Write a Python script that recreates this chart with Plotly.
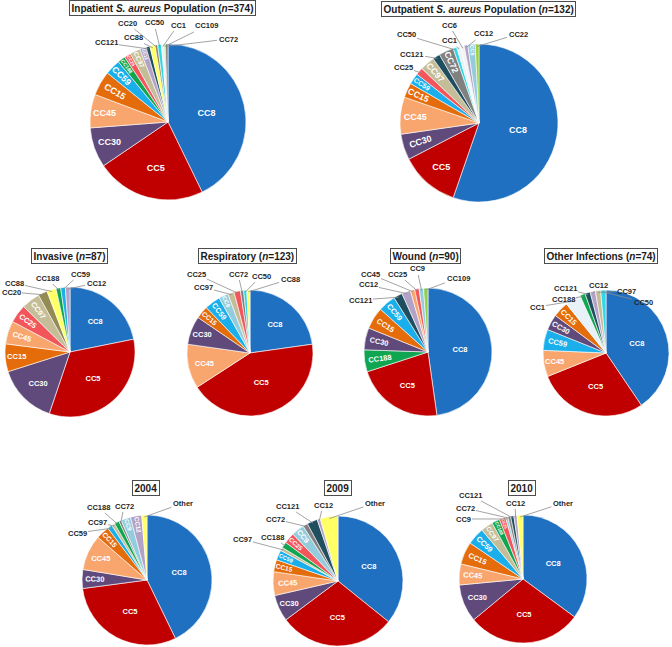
import math
import plotly.graph_objects as go

# ---------------- data ----------------
inpatient_labels = ["CC8", "CC5", "CC30", "CC45", "CC15", "CC59", "CC188", "CC25", "CC97", "CC12",
                    "CC121", "CC88", "CC20", "CC50", "CC1", "CC109", "CC72"]
inpatient_counts = [160, 85, 31, 26, 19, 12, 6, 5, 8, 5, 3, 4, 2, 3, 2, 1, 2]
inpatient_outside = ["CC121", "CC88", "CC20", "CC50", "CC1", "CC109", "CC72"]

outpatient_labels = ["CC8", "CC5", "CC30", "CC45", "CC15", "CC59", "CC25", "CC97", "CC121", "CC72",
                     "CC50", "CC1", "CC6", "CC12", "CC9", "CC22"]
outpatient_counts = [73, 16, 7, 10, 4, 3, 2, 4, 2, 4, 1, 1, 1, 1, 2, 1]
outpatient_outside = ["CC25", "CC121", "CC50", "CC1", "CC6", "CC12", "CC22"]

invasive_labels = ["CC8", "CC5", "CC30", "CC15", "CC45", "CC25", "CC97", "CC20", "CC88", "CC188", "CC59", "CC12"]
invasive_counts = [19, 29, 13, 6, 5, 4, 4, 2, 2, 1, 1, 1]
invasive_outside = ["CC20", "CC88", "CC188", "CC59", "CC12"]

respiratory_labels = ["CC8", "CC5", "CC45", "CC30", "CC15", "CC59", "CC9", "CC97", "CC25", "CC72", "CC50", "CC88"]
respiratory_counts = [28, 53, 14, 9, 4, 5, 3, 2, 2, 1, 1, 1]
respiratory_outside = ["CC97", "CC25", "CC72", "CC50", "CC88"]

wound_labels = ["CC8", "CC5", "CC188", "CC30", "CC15", "CC59", "CC121", "CC12", "CC45", "CC25", "CC9", "CC109"]
wound_counts = [43, 20, 5, 5, 5, 4, 2, 2, 1, 1, 1, 1]
wound_outside = ["CC121", "CC12", "CC45", "CC25", "CC9", "CC109"]

other_labels = ["CC8", "CC5", "CC45", "CC59", "CC30", "CC15", "CC1", "CC188", "CC121", "CC12", "CC97", "CC50"]
other_counts = [30, 21, 5, 4, 3, 3, 3, 1, 1, 1, 1, 1]
other_outside = ["CC1", "CC188", "CC121", "CC12", "CC97", "CC50"]

y2004_labels = ["CC8", "CC5", "CC30", "CC45", "CC15", "CC59", "CC97", "CC188", "CC72", "CC9", "CC12", "Other"]
y2004_pct = [42.8, 30.1, 4.7, 8.8, 3.3, 1.2, 0.8, 1.2, 0.6, 2.4, 2.8, 1.3]
y2004_outside = ["CC59", "CC97", "CC188", "CC72", "Other"]

y2009_labels = ["CC8", "CC5", "CC30", "CC45", "CC15", "CC59", "CC97", "CC188", "CC25", "CC9", "CC72",
                "CC121", "CC12", "Other"]
y2009_pct = [35.8, 29.0, 6.6, 5.9, 3.0, 2.5, 0.8, 1.5, 2.7, 3.2, 1.2, 2.6, 0.8, 4.4]
y2009_outside = ["CC97", "CC188", "CC72", "CC121", "CC12", "Other"]

y2010_labels = ["CC8", "CC5", "CC30", "CC45", "CC15", "CC59", "CC97", "CC188", "CC25", "CC9", "CC72",
                "CC121", "CC12", "Other"]
y2010_pct = [35.1, 28.9, 9.5, 5.3, 5.7, 4.4, 3.1, 2.0, 1.6, 0.6, 0.7, 0.8, 0.8, 1.5]
y2010_outside = ["CC9", "CC72", "CC121", "CC12", "Other"]

# ---------------- styles ----------------
COLORS = {
    "CC8": "#1F70C1", "CC5": "#C00000", "CC30": "#604A7B", "CC45": "#F9A66E", "CC15": "#E46C0A",
    "CC59": "#1AAFEA", "CC188": "#10A550", "CC25": "#F2565A", "CC97": "#C4BD97", "CC12": "#B3A2C7",
    "CC121": "#1F4E5F", "CC88": "#FFFF66", "CC20": "#948A54", "CC50": "#33D6E6", "CC1": "#E9F1F8",
    "CC109": "#92D050", "CC72": "#808080", "CC9": "#93CDDD", "CC6": "#F2F2F2", "CC22": "#9BD239",
    "Other": "#FFFF66",
}

W, H = 672, 647
FONT = "Liberation Sans, Arial, sans-serif"

# layout (pixel centers, radii, title positions, outside-label positions)
PIES = [
    dict(labels=inpatient_labels, values=inpatient_counts, outside=inpatient_outside,
         cx=168, cy=122, r=78, fs=9,
         title="Inpatient <i>S. aureus</i> Population (<i>n</i>=374)", tx=162, ty=8,
         pos={"CC121": (106, 43), "CC88": (133, 38), "CC20": (127, 23), "CC50": (154, 23),
              "CC1": (178, 25), "CC109": (206, 26), "CC72": (228, 39)}),
    dict(labels=outpatient_labels, values=outpatient_counts, outside=outpatient_outside,
         cx=479, cy=123, r=79, fs=9,
         title="Outpatient <i>S. aureus</i> Population (<i>n</i>=132)", tx=478, ty=9,
         pos={"CC25": (403, 67), "CC121": (412, 54), "CC50": (406, 35), "CC1": (449, 41),
              "CC6": (449, 25), "CC12": (483, 34), "CC22": (518, 34)}),
    dict(labels=invasive_labels, values=invasive_counts, outside=invasive_outside,
         cx=70, cy=352, r=65, fs=7.5,
         title="Invasive (<i>n</i>=87)", tx=69, ty=256,
         pos={"CC20": (11, 292), "CC88": (14, 283), "CC188": (47, 278), "CC59": (80, 274),
              "CC12": (96, 283)}),
    dict(labels=respiratory_labels, values=respiratory_counts, outside=respiratory_outside,
         cx=250, cy=353, r=63, fs=7.5,
         title="Respiratory (<i>n</i>=123)", tx=247, ty=256,
         pos={"CC97": (203, 287), "CC25": (196, 274), "CC72": (238, 274), "CC50": (261, 276),
              "CC88": (290, 279)}),
    dict(labels=wound_labels, values=wound_counts, outside=wound_outside,
         cx=428, cy=352, r=64, fs=7.5,
         title="Wound (<i>n</i>=90)", tx=425, ty=256,
         pos={"CC121": (360, 300), "CC12": (368, 285), "CC45": (370, 274), "CC25": (398, 274),
              "CC9": (417, 269), "CC109": (458, 278)}),
    dict(labels=other_labels, values=other_counts, outside=other_outside,
         cx=606, cy=353, r=63, fs=7.5,
         title="Other Infections (<i>n</i>=74)", tx=601, ty=256,
         pos={"CC1": (537, 307), "CC188": (563, 300), "CC121": (565, 288), "CC12": (598, 285),
              "CC97": (626, 291), "CC50": (643, 302)}),
    dict(labels=y2004_labels, values=y2004_pct, outside=y2004_outside,
         cx=147, cy=580, r=65, fs=7.5,
         title="2004", tx=146, ty=488,
         pos={"CC59": (77, 533), "CC97": (97, 522), "CC188": (98, 507), "CC72": (124, 506),
              "Other": (183, 503)}),
    dict(labels=y2009_labels, values=y2009_pct, outside=y2009_outside,
         cx=338, cy=581, r=65, fs=7.5,
         title="2009", tx=338, ty=488,
         pos={"CC97": (242, 539), "CC188": (272, 537), "CC72": (275, 519), "CC121": (287, 506),
              "CC12": (323, 505), "Other": (375, 503)}),
    dict(labels=y2010_labels, values=y2010_pct, outside=y2010_outside,
         cx=523, cy=579, r=64, fs=7.5,
         title="2010", tx=522, ty=488,
         pos={"CC9": (463, 519), "CC72": (465, 508), "CC121": (470, 495), "CC12": (515, 503),
              "Other": (563, 503)}),
]


def px_to_paper(x, y):
    return x / W, 1 - y / H


fig = go.Figure()
annotations = []

for p in PIES:
    cx, cy, r = p["cx"], p["cy"], p["r"]
    labels, values, outside = p["labels"], p["values"], p["outside"]
    texts = ["" if lab in outside else lab for lab in labels]
    fig.add_trace(go.Pie(
        labels=labels, values=values, text=texts, textinfo="text",
        sort=False, direction="clockwise", rotation=0,
        marker=dict(colors=[COLORS[l] for l in labels], line=dict(color="white", width=0.6)),
        textposition="inside", insidetextorientation="auto",
        insidetextfont=dict(color="white", size=p["fs"], family=FONT, weight="bold"),
        domain=dict(x=[(cx - r) / W, (cx + r) / W], y=[1 - (cy + r) / H, 1 - (cy - r) / H]),
        showlegend=False, hoverinfo="label+value",
    ))

    # leader-line labels for tiny slices, anchored at slice mid-angle
    total = float(sum(values))
    cum = 0.0
    for lab, v in zip(labels, values):
        mid = (cum + v / 2.0) / total * 2 * math.pi
        cum += v
        if lab not in outside:
            continue
        px = cx + 0.97 * r * math.sin(mid)
        py = cy - 0.97 * r * math.cos(mid)
        lx, ly = p["pos"][lab]
        x, y = px_to_paper(px, py)
        annotations.append(dict(
            x=x, y=y, xref="paper", yref="paper", text=lab, showarrow=True,
            ax=lx - px, ay=ly - py, arrowhead=0, arrowwidth=0.8, arrowcolor="#8c8c8c",
            standoff=0, startstandoff=0, xanchor="center", yanchor="middle",
            font=dict(size=7.5, family=FONT, color="#262626", weight="bold"),
        ))

    tx, ty = px_to_paper(p["tx"], p["ty"])
    annotations.append(dict(
        x=tx, y=ty, xref="paper", yref="paper", text="<b>" + p["title"] + "</b>", showarrow=False,
        xanchor="center", yanchor="middle",
        font=dict(size=10, family=FONT, color="#1a1a1a"),
        bordercolor="#4d4d4d", borderwidth=1, borderpad=1.5, bgcolor="white",
    ))

fig.update_layout(
    width=W, height=H, autosize=False,
    margin=dict(l=0, r=0, t=0, b=0),
    paper_bgcolor="white", plot_bgcolor="white",
    annotations=annotations,
)

fig.write_html("out.html", config={"displayModeBar": False},
               post_script="document.body.style.margin='0';")
